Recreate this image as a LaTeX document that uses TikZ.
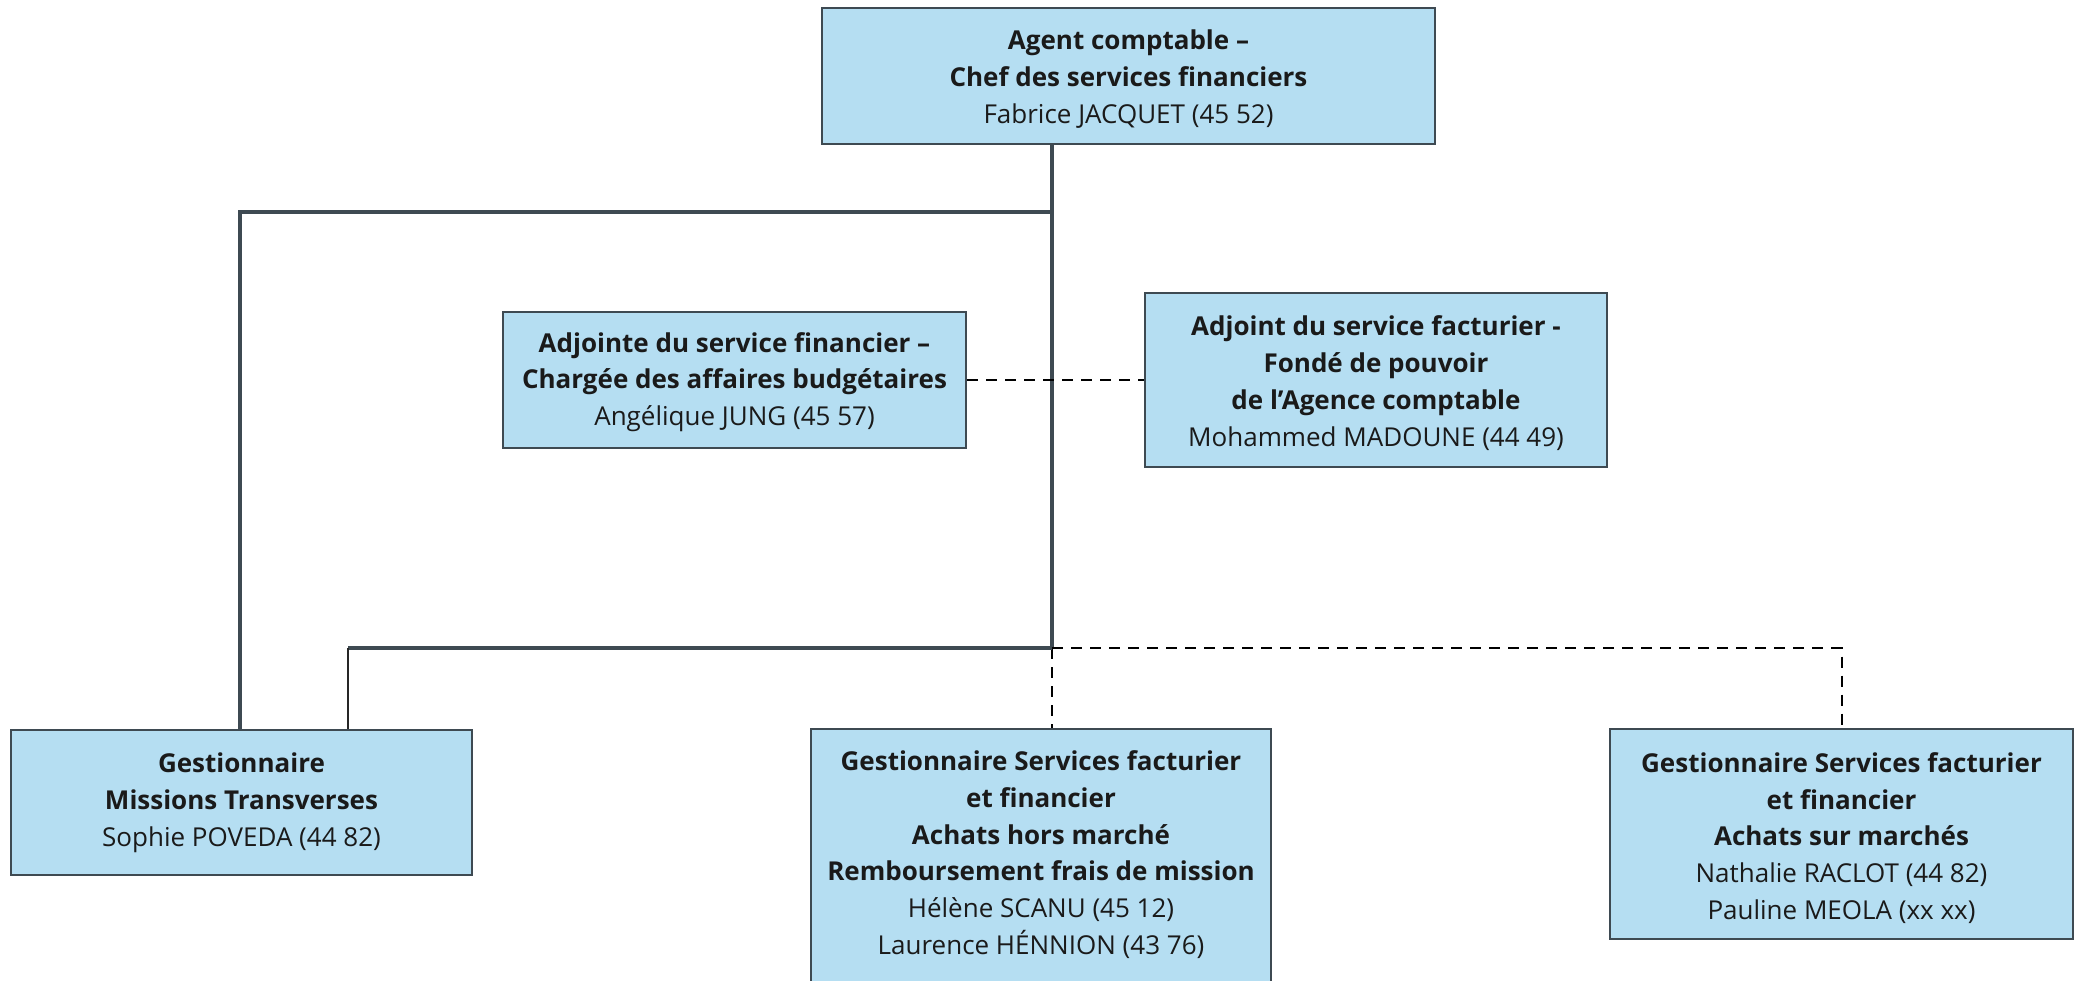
\documentclass[tikz,border=0pt]{standalone}
\usepackage{fontspec}
\setmainfont{Open Sans}
\definecolor{boxfill}{HTML}{B5DEF2}
\definecolor{slate}{HTML}{3E4A52}
\definecolor{ink}{HTML}{1A1A1A}
\newcommand\tstrut[1]{\rule{0pt}{#1pt}}
\newcommand\bstrut[1]{\rule[-#1pt]{0pt}{#1pt}}
\begin{document}
\begin{tikzpicture}[x=1pt,y=-1pt,
  box/.style={draw=slate, line width=2pt, fill=boxfill, inner sep=0pt, align=center,
    text=ink, font=\fontsize{26}{36.8}\selectfont},
  solidline/.style={draw=slate, line width=3.3pt},
  thinline/.style={draw=black!85, line width=2pt},
  dashline/.style={draw=black, line width=2pt, dash pattern=on 11pt off 8pt}]
\useasboundingbox (0,0) rectangle (2083,980);
\node[box, minimum width=613pt, minimum height=136pt] (top) at (1128.5,75.5)
  {\tstrut{27}\textbf{Agent comptable –}\\\textbf{Chef des services financiers}\\Fabrice JACQUET (45 52)};
\node[box, minimum width=463pt, minimum height=136pt] (adjF) at (734.5,380)
  {\tstrut{24}\textbf{Adjointe du service financier –}\\\textbf{Chargée des affaires budgétaires}\\Angélique JUNG (45 57)};
\node[box, minimum width=462pt, minimum height=174pt] (adjA) at (1376,380)
  {\tstrut{26}\textbf{Adjoint du service facturier -}\\\textbf{Fondé de pouvoir}\\\textbf{de l’Agence comptable}\\Mohammed MADOUNE (44 49)};
\node[box, minimum width=461pt, minimum height=145pt] (gMT) at (241.5,802.5)
  {\textbf{Gestionnaire}\\\textbf{Missions Transverses}\\Sophie POVEDA (44 82)};
\node[box, minimum width=460pt, minimum height=261pt] (gMid) at (1041,859.5)
  {\textbf{Gestionnaire Services facturier}\\\textbf{et financier}\\\textbf{Achats hors marché}\\\textbf{Remboursement frais de mission}\\Hélène SCANU (45 12)\\Laurence HÉNNION (43 76)\bstrut{14}};
\node[box, minimum width=463pt, minimum height=210pt] (gRight) at (1841.5,834)
  {\tstrut{28}\textbf{Gestionnaire Services facturier}\\\textbf{et financier}\\\textbf{Achats sur marchés}\\Nathalie RACLOT (44 82)\\Pauline MEOLA (xx xx)};
\coordinate (jTop) at (1052,212);
\coordinate (jBot) at (1052,648);
\coordinate (jLeft) at (240,212);
\coordinate (jLeftBot) at (348,648);
\coordinate (jRight) at (1841.5,648);
\draw[solidline] (top.south -| jTop) -- (jBot);
\draw[solidline] (jTop) -- (jLeft) -- (gMT.north -| jLeft);
\draw[dashline] (jBot) -- (gMid.north -| jBot);
\draw[dashline] (jBot) -- (jRight) -- (gRight.north);
\draw[solidline] (jBot) -- (jLeftBot);
\draw[thinline] (jLeftBot) -- (gMT.north -| jLeftBot);
\draw[dashline] (adjF.east) -- (adjA.west);
\end{tikzpicture}
\end{document}
